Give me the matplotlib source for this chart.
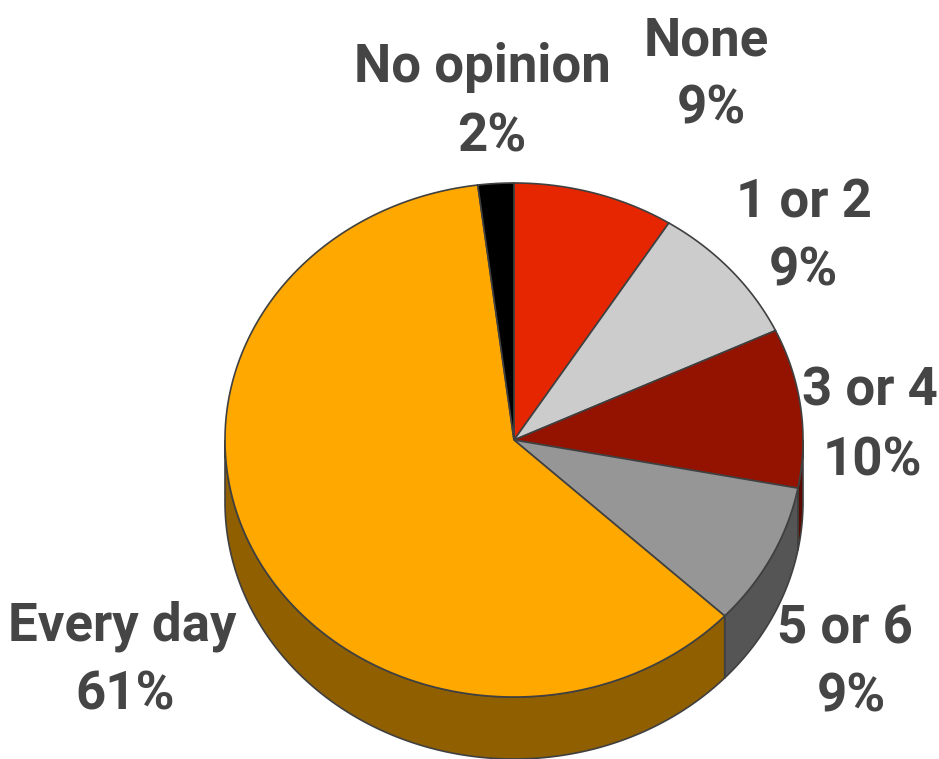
import numpy as np
import matplotlib
matplotlib.use("Agg")
import matplotlib.pyplot as plt

# ---- data ----
categories = ["None", "1 or 2", "3 or 4", "5 or 6", "Every day", "No opinion"]
values = [9, 9, 10, 9, 61, 2]
pct_labels = ["9%", "9%", "10%", "9%", "61%", "2%"]

# ---- style ----
top_colors = ["#E62600", "#CCCCCC", "#931300", "#969696", "#FFA800", "#000000"]
side_colors = ["#8A1700", "#7A7A7A", "#5A0A00", "#555555", "#8F5F00", "#000000"]
edge = "#404040"
txt_col = "#454545"

W, H = 939, 759
fig = plt.figure(figsize=(W / 100, H / 100), dpi=100)
ax = fig.add_axes([0, 0, 1, 1])
ax.set_xlim(0, W)
ax.set_ylim(H, 0)
ax.axis("off")

cx, cy, rx, ry, depth = 514, 440, 289, 257, 62


def pt(theta_deg, dy=0.0):
    t = np.radians(theta_deg)
    return cx + rx * np.sin(t), cy - ry * np.cos(t) + dy


total = float(sum(values))
bounds = np.concatenate([[0], np.cumsum(values)]) / total * 360.0

# sides (visible front half: theta 90..270)
for i in range(len(values)):
    a0, a1 = max(bounds[i], 90), min(bounds[i + 1], 270)
    if a1 <= a0:
        continue
    th = np.linspace(a0, a1, 200)
    xs_t, ys_t = pt(th)
    xs_b, ys_b = pt(th[::-1], depth)
    ax.fill(np.concatenate([xs_t, xs_b]), np.concatenate([ys_t, ys_b]),
            facecolor=side_colors[i], edgecolor=edge, linewidth=1.2, zorder=1)

# top face
for i in range(len(values)):
    th = np.linspace(bounds[i], bounds[i + 1], 300)
    xs, ys = pt(th)
    ax.fill(np.concatenate([[cx], xs]), np.concatenate([[cy], ys]),
            facecolor=top_colors[i], edgecolor=edge, linewidth=1.2, zorder=2)

# labels (name line, percent line)
font = dict(family=["Roboto", "Liberation Sans"], weight="bold",
            size=38, color=txt_col, ha="center", va="baseline")
label_pos = {
    "None": ((706, 55), (711, 123)),
    "1 or 2": ((804, 217), (803, 285)),
    "3 or 4": ((870, 405), (872, 475)),
    "5 or 6": ((845, 643), (851, 712)),
    "Every day": ((122, 640), (125, 710)),
    "No opinion": ((482, 82), (492, 152)),
}
for cat, p in zip(categories, pct_labels):
    (x1, y1), (x2, y2) = label_pos[cat]
    ax.text(x1, y1, cat, **font)
    ax.text(x2, y2, p, **font)

fig.savefig("out.png", dpi=100, facecolor="white")
